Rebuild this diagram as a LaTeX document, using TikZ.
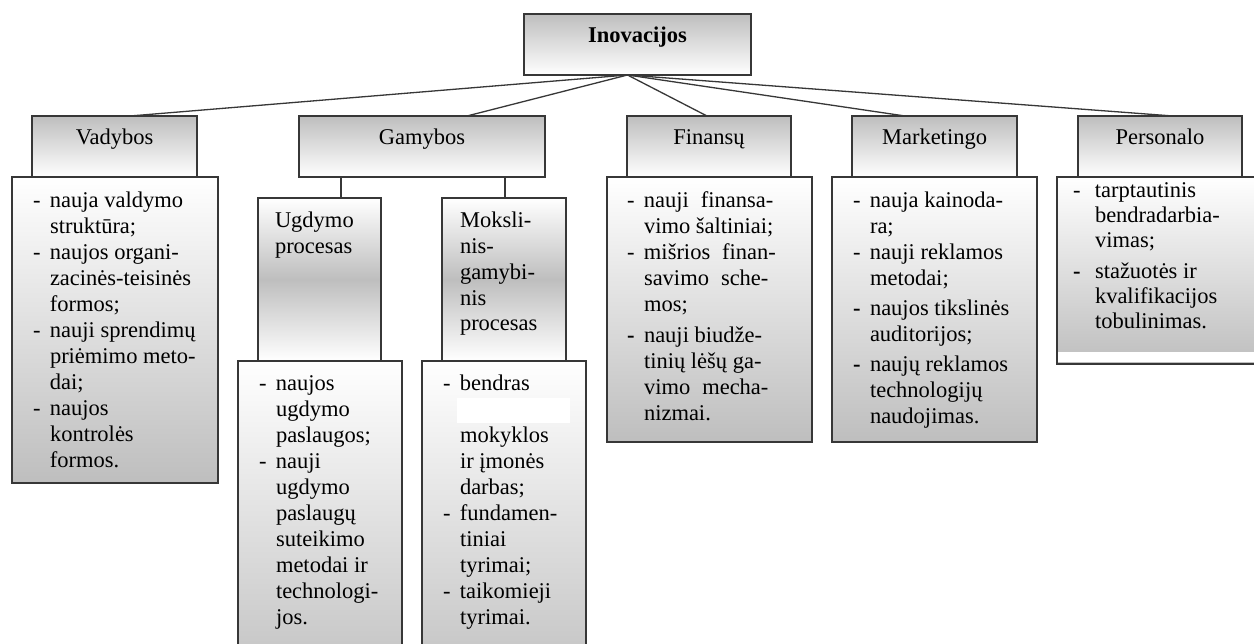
\documentclass[tikz,border=0pt]{standalone}
\usepackage{fontspec}
\setmainfont{Liberation Serif}
\definecolor{gg}{RGB}{190,190,190}
\definecolor{bd}{RGB}{55,55,55}
\newcommand\itm{\makebox[17pt][l]{-}}
\newcommand\itb{\makebox[17pt][l]{\textbf{-}}}
\newcommand\cnt{\hspace*{17pt}}
\newcommand\itp{\makebox[22pt][l]{-}}
\newcommand\itpb{\makebox[22pt][l]{\textbf{-}}}
\newcommand\cnp{\hspace*{22pt}}
\newcommand\tlist[1]{\begin{tabular}[t]{@{}l@{}}#1\end{tabular}}
\begin{document}
\begin{tikzpicture}[x=1pt,y=-1pt,
  every node/.style={font=\fontsize{22.5}{25.8}\selectfont, inner sep=0pt, outer sep=0pt},
  hbox/.style={draw=bd, line width=1.2pt, top color=gg, bottom color=white, anchor=north west},
  cbox/.style={draw=bd, line width=1.3pt, top color=white, bottom color=gg, anchor=north west},
  mbox/.style={draw=bd, line width=1.2pt, top color=white, bottom color=white, middle color=gg, anchor=north west},
  ttl/.style={anchor=base},
  lst/.style={anchor=base west},
  fan/.style={draw=bd, line width=1.3pt}]
\useasboundingbox (0,0) rectangle (1254,644);
\fill[white] (0,0) rectangle (1254,644);
\clip (0,0) rectangle (1254,644);

% top node
\node[hbox, minimum width=227, minimum height=61] (ino) at (524,14) {};
\node[ttl, font=\fontsize{22.5}{25.8}\selectfont\bfseries] (inot) at (ino.north |- 0,43) {Inovacijos};

% content boxes (row 2)
\node[cbox, minimum width=206, minimum height=306] (vadc) at (12,177) {};
\node[cbox, minimum width=205, minimum height=265] (finc) at (607,177) {};
\node[cbox, minimum width=205, minimum height=265] (mrkc) at (832,177) {};
\node[cbox, minimum width=230, minimum height=187] (perc) at (1057,177) {};
\fill[white] (1058,352) rectangle (1254,362);

% Gamybos sub-structure
\node[cbox, minimum width=164, minimum height=340] (ugdc) at (238,361) {};
\node[cbox, minimum width=164, minimum height=340] (mokc) at (422,361) {};
\fill[white] (457,398) rectangle (570,423);
\node[mbox, minimum width=123, minimum height=163] (ugd) at (258,198) {};
\node[mbox, minimum width=124, minimum height=163] (mok) at (442,198) {};

% row 1 title boxes
\node[hbox, minimum width=165, minimum height=61] (vad) at (32,116) {};
\node[hbox, minimum width=246, minimum height=61] (gam) at (299,116) {};
\node[hbox, minimum width=164, minimum height=61] (fin) at (627,116) {};
\node[hbox, minimum width=165, minimum height=61] (mrk) at (852,116) {};
\node[hbox, minimum width=164, minimum height=61] (per) at (1078,116) {};

% fan connectors
\draw[fan] ([xshift=-10pt]ino.south) -- ([xshift=15.5pt]vad.north);
\draw[fan] ([xshift=-10pt]ino.south) -- ([xshift=45pt]gam.north);
\draw[fan] ([xshift=-10pt]ino.south) -- ([xshift=-2pt]fin.north);
\draw[fan] ([xshift=-10pt]ino.south) -- ([xshift=-29.5pt]mrk.north);
\draw[fan] ([xshift=-10pt]ino.south) -- ([xshift=13pt]per.north);
\draw[fan, line width=1.1pt] ([xshift=21.5pt]ugd.north) -- ([xshift=21.5pt]ugd.north |- gam.south);
\draw[fan, line width=1.1pt] ([xshift=1pt]mok.north) -- ([xshift=1pt]mok.north |- gam.south);

% titles
\node[ttl] (vadt) at (vad.north |- 0,145) {Vadybos};
\node[ttl] (gamt) at (gam.north |- 0,145) {Gamybos};
\node[ttl] (fint) at (fin.north |- 0,145) {Finansų};
\node[ttl] (mrkt) at (mrk.north |- 0,145) {Marketingo};
\node[ttl] (pert) at (per.north |- 0,145) {Personalo};

\node[lst, font=\fontsize{22.5}{26}\selectfont] (ugdt) at (275,228) {\tlist{Ugdymo\\procesas}};
\node[lst, font=\fontsize{22.5}{25.75}\selectfont] (mokt) at (460,228) {\tlist{Moksli-\\nis-\\gamybi-\\nis\\procesas}};

% lists
\node[lst, font=\fontsize{22.5}{26}\selectfont] (vadl) at (33,208) {\tlist{\itm nauja valdymo\\\cnt struktūra;\\\itm naujos organi-\\\cnt zacinės-teisinės\\\cnt formos;\\\itm nauji sprendimų\\\cnt priėmimo meto-\\\cnt dai;\\\itm naujos\\\cnt kontrolės\\\cnt formos.}};

\node[lst, font=\fontsize{22.5}{25.9}\selectfont] (ugdl) at (259,391) {\tlist{\itm naujos\\\cnt ugdymo\\\cnt paslaugos;\\\itm nauji\\\cnt ugdymo\\\cnt paslaugų\\\cnt suteikimo\\\cnt metodai ir\\\cnt technologi-\\\cnt jos.}};

\node[lst, font=\fontsize{22.5}{25.9}\selectfont] (mokl) at (443,391) {\tlist{\itm bendras\\\mbox{}\\\cnt mokyklos\\\cnt ir įmonės\\\cnt darbas;\\\itm fundamen-\\\cnt tiniai\\\cnt tyrimai;\\\itm taikomieji\\\cnt tyrimai.}};

\node[lst, font=\fontsize{22.5}{25.8}\selectfont] (finl) at (627,208) {\tlist{\itm nauji\hspace{12pt}finansa-\\\cnt vimo šaltiniai;\\\itm mišrios\hspace{12pt}finan-\\\cnt savimo\hspace{12pt}sche-\\\cnt mos;\\[6pt]\itb nauji biudže-\\\cnt tinių lėšų ga-\\\cnt vimo\hspace{12pt}mecha-\\\cnt nizmai.}};

\node[lst, font=\fontsize{22.5}{26}\selectfont] (mrkl) at (853,208) {\tlist{\itm nauja kainoda-\\\cnt ra;\\\itm nauji reklamos\\\cnt metodai;\\[4pt]\itb naujos tikslinės\\\cnt auditorijos;\\[4pt]\itb naujų reklamos\\\cnt technologijų\\\cnt naudojimas.}};

\node[lst, font=\fontsize{22.5}{25}\selectfont] (perl) at (1073,198) {\tlist{\itp tarptautinis\\\cnp bendradarbia-\\\cnp vimas;\\[6pt]\itpb stažuotės ir\\\cnp kvalifikacijos\\\cnp tobulinimas.}};
\end{tikzpicture}
\end{document}
